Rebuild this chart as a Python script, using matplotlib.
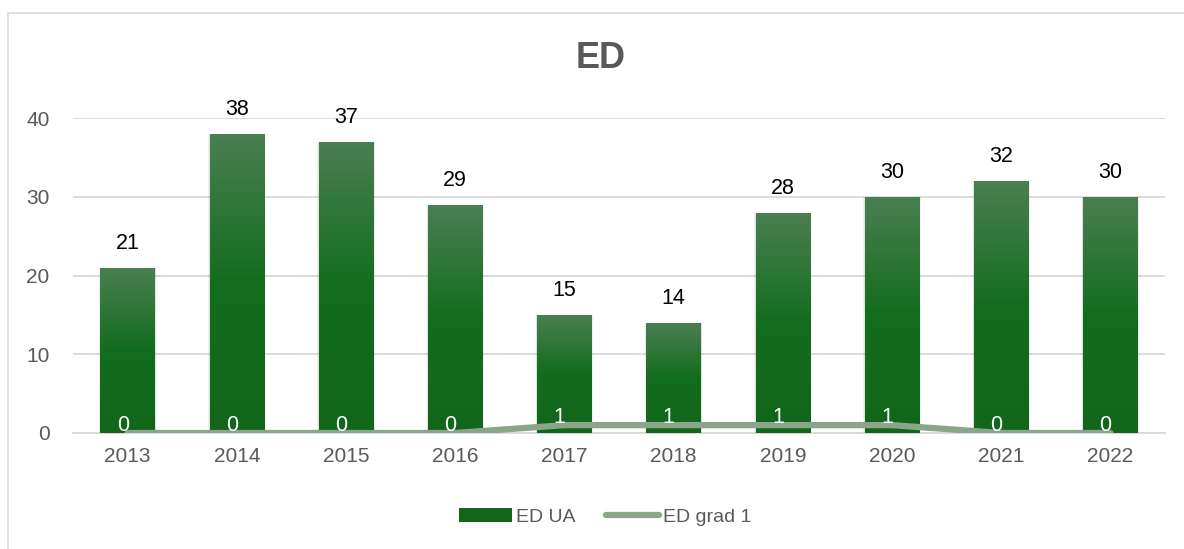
import numpy as np
import matplotlib.pyplot as plt
from matplotlib.patches import Rectangle
from matplotlib.colors import LinearSegmentedColormap

years = ['2013', '2014', '2015', '2016', '2017', '2018', '2019', '2020', '2021', '2022']
ed_ua = [21, 38, 37, 29, 15, 14, 28, 30, 32, 30]
ed_grad1 = [0, 0, 0, 0, 1, 1, 1, 1, 0, 0]
yticks = [0, 10, 20, 30, 40]

plt.rcParams['font.family'] = ['Liberation Sans', 'DejaVu Sans']

fig = plt.figure(figsize=(11.84, 5.49), dpi=100)
ax = fig.add_axes([73/1184, 1-433/549, (1165-73)/1184, (433-118)/549])

# chart frame (only top/left edges visible in the reference)
fig.patches.append(Rectangle((8/1184, -0.1), 1.2, 1-13/549+0.1, transform=fig.transFigure,
                             fill=False, edgecolor='#d9d9d9', linewidth=1.2))

x = np.arange(len(years))
bw = 0.5

# soft shadows on the bar sides
for xi, v in zip(x, ed_ua):
    for k, a in enumerate([0.06, 0.04, 0.02]):
        ax.add_patch(Rectangle((xi - bw/2 - 0.006*(k+1), 0), bw + 0.012*(k+1), v,
                               facecolor='black', alpha=a, edgecolor='none', zorder=1.5))

bars = ax.bar(x, ed_ua, width=bw, color='#116619', zorder=2, label='ED UA')

# vertical gradient per bar
cmap = LinearSegmentedColormap.from_list('g', ['#116619', '#136d1e', '#4b7f52'])
grad = np.linspace(0, 1, 256).reshape(-1, 1)
for b in bars:
    bx, by = b.get_x(), b.get_y()
    w, h = b.get_width(), b.get_height()
    im = ax.imshow(grad, cmap=cmap, aspect='auto', origin='lower',
                   extent=[bx, bx + w, by, by + h], zorder=2.1)
    im.set_clip_path(b)

line, = ax.plot(x, ed_grad1, color='#8aa58a', linewidth=4.5, solid_capstyle='round',
                solid_joinstyle='round', zorder=3, label='ED grad 1')

for xi, v in zip(x, ed_ua):
    ax.annotate(str(v), (xi, v), xytext=(0, 10), textcoords='offset points',
                ha='center', va='bottom', fontsize=15.5, color='black')
for xi, v in zip(x, ed_grad1):
    ax.annotate(str(v), (xi, v), xytext=(-3.5, 5.5), textcoords='offset points',
                ha='center', va='center', fontsize=15.5, color='white', zorder=4)

ax.set_xlim(-0.5, len(years) - 0.5)
ax.set_ylim(0, 40)
ax.set_yticks(yticks)
ax.set_xticks(x)
ax.set_xticklabels(years)
ax.tick_params(axis='both', length=0, labelsize=15, labelcolor='#595959')
ax.tick_params(axis='y', pad=17)
ax.tick_params(axis='x', pad=10)
ax.grid(axis='y', color='#d9d9d9', linewidth=1.3, zorder=0)
ax.set_axisbelow(True)
for s in ['top', 'right', 'left']:
    ax.spines[s].set_visible(False)
ax.spines['bottom'].set_color('#d9d9d9')
ax.spines['bottom'].set_linewidth(1.3)
ax.spines['bottom'].set_zorder(1)

fig.text(601/1184, 1-59/549, 'ED', ha='center', va='center', fontsize=26,
         fontweight='bold', color='#595959')

leg = fig.legend(handles=[bars, line], loc='center', bbox_to_anchor=(605/1184, 1-517/549),
                 ncol=2, frameon=False, fontsize=14, handlelength=2.7, handletextpad=0.2,
                 columnspacing=1.6)
for t in leg.get_texts():
    t.set_color('#595959')

fig.savefig('out.png', dpi=100)
